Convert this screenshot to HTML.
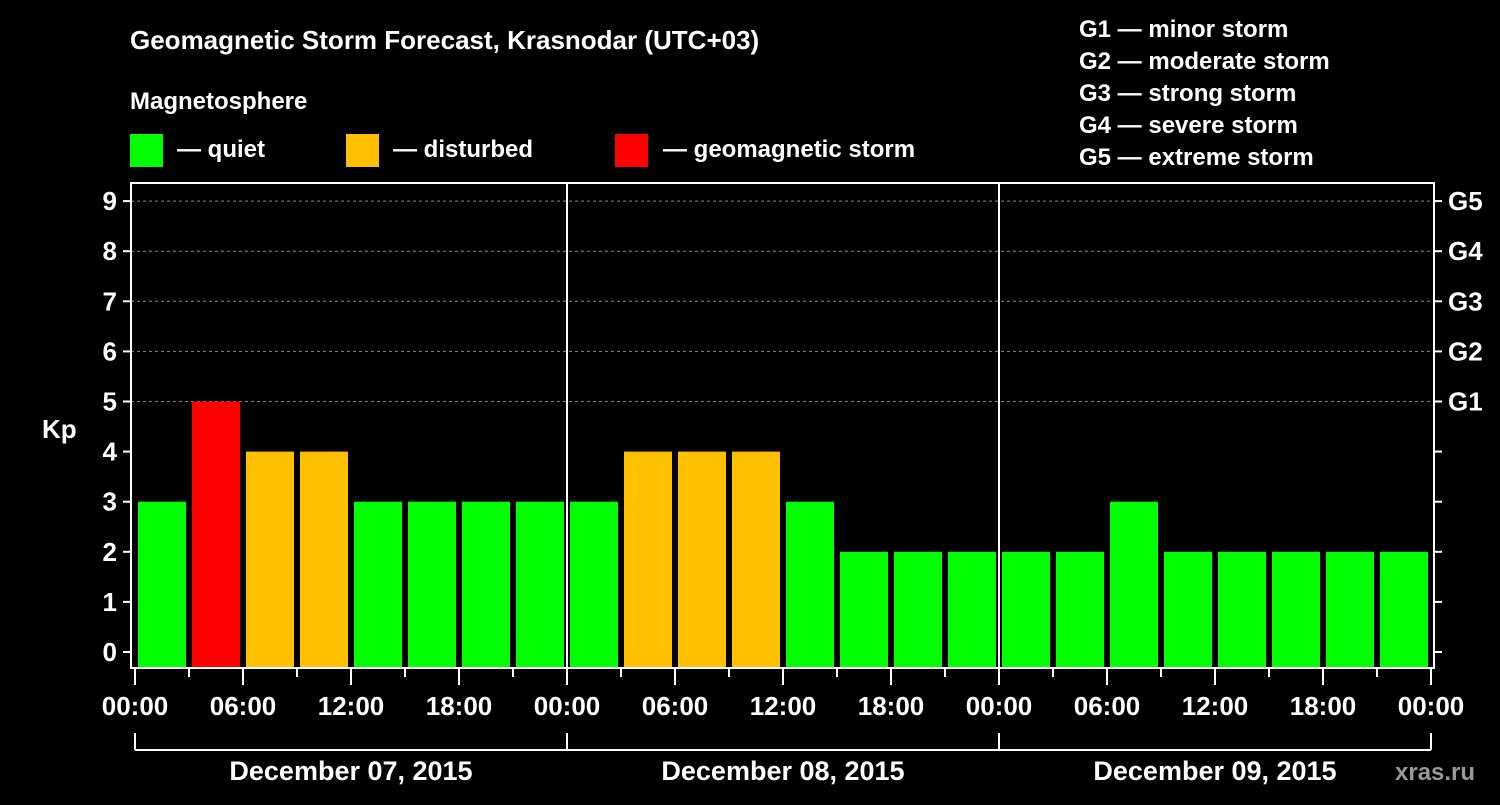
<!DOCTYPE html>
<html><head><meta charset="utf-8"><style>
body{margin:0;background:#000;}
svg, svg text{font-family:"Liberation Sans",Arial,Helvetica,sans-serif;font-weight:bold;}
</style></head><body>
<svg id="chart" width="1500" height="800" viewBox="0 0 1500 800" xmlns="http://www.w3.org/2000/svg" font-family="Liberation Sans, Arial, sans-serif">
<rect width="1500" height="800" fill="#000"/>
<text x="130" y="49" fill="#fff" font-size="26">Geomagnetic Storm Forecast, Krasnodar (UTC+03)</text>
<text x="130" y="109" fill="#fff" font-size="24">Magnetosphere</text>
<g>
<rect x="130" y="134" width="33" height="33" fill="#00ff00"/>
<text x="177" y="157" fill="#fff" font-size="24">— quiet</text>
<rect x="346" y="134" width="33" height="33" fill="#ffc000"/>
<text x="393" y="157" fill="#fff" font-size="24">— disturbed</text>
<rect x="615" y="134" width="33" height="33" fill="#ff0000"/>
<text x="663" y="157" fill="#fff" font-size="24">— geomagnetic storm</text>
</g>
<g fill="#fff" font-size="24">
<text x="1079" y="37">G1 — minor storm</text>
<text x="1079" y="69">G2 — moderate storm</text>
<text x="1079" y="101">G3 — strong storm</text>
<text x="1079" y="133">G4 — severe storm</text>
<text x="1079" y="165">G5 — extreme storm</text>
</g>
<text x="42" y="438" fill="#fff" font-size="26">Kp</text>
<text x="1395" y="780" fill="#999" font-size="24" font-weight="normal">xras.ru</text>
<g id="grid"></g><g id="bars"></g><g id="axes"></g>
</svg>
<script>
const kpValues=[3,5,4,4,3,3,3,3, 3,4,4,4,3,2,2,2, 2,2,3,2,2,2,2,2];
const dayLabels=["December 07, 2015","December 08, 2015","December 09, 2015"];
const timeLabels=["00:00","06:00","12:00","18:00"];
const yTicks=[0,1,2,3,4,5,6,7,8,9];
const gLabels=["G1","G2","G3","G4","G5"];
(function(){
const NS="http://www.w3.org/2000/svg";
const x0=135,dayW=432,barW=54,y0=652,unit=50.1,pTop=183,pBottom=668,fl=131,fr=1434;
const X=h=>x0+h/24*dayW; const Y=v=>y0-v*unit;
function mk(p,t,a){const e=document.createElementNS(NS,t);for(const k in a)e.setAttribute(k,a[k]);p.appendChild(e);return e;}
const grid=document.getElementById('grid'),bars=document.getElementById('bars'),axes=document.getElementById('axes');
for(let v=5;v<=9;v++){const l=mk(grid,'line',{x1:fl,x2:fr,y1:Y(v),y2:Y(v),stroke:'#888','stroke-dasharray':'3,3'});

}
kpValues.forEach((v,i)=>{const c=v>=5?'#ff0000':v>=4?'#ffc000':'#00ff00';
const r=mk(bars,'rect',{x:X(i*3)+3,y:Y(v),width:barW-6,height:pBottom-Y(v),fill:c});

});
const frame=mk(axes,'rect',{x:fl,y:pTop,width:fr-fl,height:pBottom-pTop,fill:'none',stroke:'#fff','stroke-width':2});


for(let d=1;d<3;d++){const l=mk(axes,'line',{x1:X(d*24),x2:X(d*24),y1:pTop,y2:pBottom,stroke:'#fff','stroke-width':2});

}
yTicks.forEach(v=>{mk(axes,'line',{x1:fl-8,x2:fl,y1:Y(v),y2:Y(v),stroke:'#fff','stroke-width':2});
mk(axes,'line',{x1:fr,x2:fr+8,y1:Y(v),y2:Y(v),stroke:'#fff','stroke-width':2});
const t=mk(axes,'text',{x:fl-14,y:Y(v)+9,fill:'#fff','font-size':26,'text-anchor':'end'});t.textContent=v;

});
gLabels.forEach((g,i)=>{const t=mk(axes,'text',{x:fr+14,y:Y(5+i)+9,fill:'#fff','font-size':26});t.textContent=g;

});
for(let h=0;h<=72;h+=3){const maj=h%6==0;mk(axes,'line',{x1:X(h),x2:X(h),y1:pBottom,y2:pBottom+(maj?17:9),stroke:'#fff','stroke-width':2});
if(maj){const t=mk(axes,'text',{x:X(h),y:715,fill:'#fff','font-size':26,'text-anchor':'middle'});t.textContent=timeLabels[(h%24)/6];

}}
for(let d=0;d<=3;d++)mk(axes,'line',{x1:X(d*24),x2:X(d*24),y1:733,y2:750,stroke:'#fff','stroke-width':2});
mk(axes,'line',{x1:X(0),x2:X(72),y1:750,y2:750,stroke:'#fff','stroke-width':2});
dayLabels.forEach((s,d)=>{const t=mk(axes,'text',{x:X(d*24+12),y:780,fill:'#fff','font-size':27,'text-anchor':'middle'});t.textContent=s;

});
})();
</script>
</body></html>
